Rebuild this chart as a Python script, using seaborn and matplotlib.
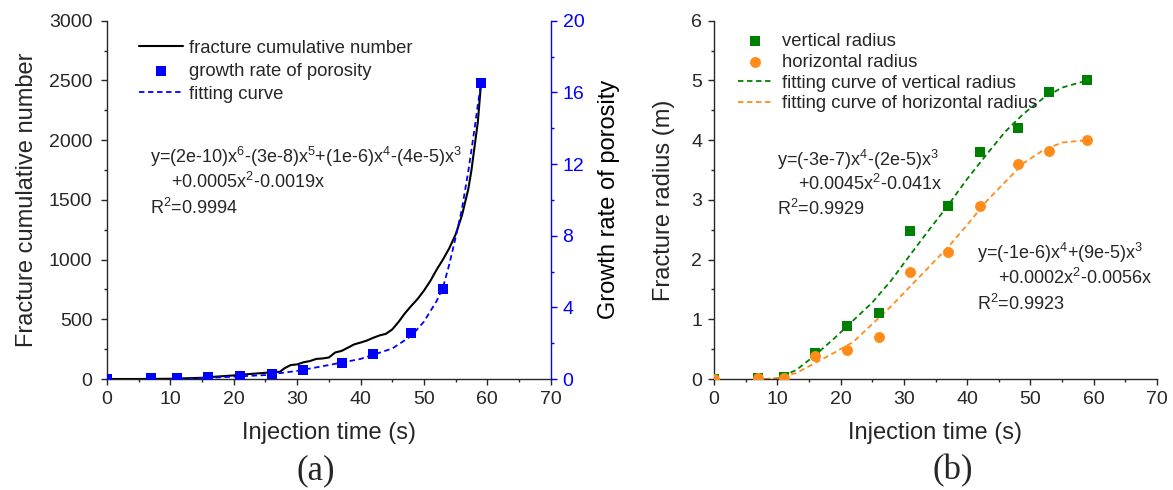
import numpy as np
import pandas as pd
import matplotlib
matplotlib.use("Agg")
import matplotlib.pyplot as plt
import seaborn as sns

# ---------------- data ----------------
# (a) fracture cumulative number (left axis)
frac_time = [0, 5, 10, 15, 17, 20, 22.6, 25, 27.3, 28, 29, 30, 31, 32, 33, 34, 35, 36, 37,
             38, 39, 40, 41, 42, 43, 44, 45, 46, 47, 48, 49, 50, 51, 52, 53, 54, 55, 56,
             57, 57.5, 58, 58.5, 59]
frac_number = [0, 0, 2, 10, 19, 30, 42, 52, 61, 90, 117, 122, 140, 150, 168, 172, 180, 222, 235,
               262, 290, 305, 322, 345, 365, 378, 415, 478, 550, 612, 670, 740, 820, 915, 1000,
               1095, 1210, 1370, 1590, 1750, 1950, 2150, 2470]
# (a) growth rate of porosity (right axis)
por_time = [0, 7, 11, 16, 21, 26, 31, 37, 42, 48, 53, 59]
por_rate = [0, 0.03, 0.05, 0.12, 0.17, 0.27, 0.52, 0.87, 1.37, 2.56, 5.02, 16.5]
# (a) fitting curve
pfit_time = [10, 15, 20, 25, 30, 35, 40, 45, 48, 50, 52, 53, 54, 55, 56, 57, 58, 58.5, 59]
pfit_rate = [0, 0.05, 0.13, 0.22, 0.45, 0.78, 1.12, 1.7, 2.4, 3.2, 4.35, 5.1, 6.4, 7.9,
             9.5, 11.6, 14.0, 15.3, 16.5]

# (b) fracture radius
rad_time = [0, 7, 11, 16, 21, 26, 31, 37, 42, 48, 53, 59]
vert_radius = [0, 0.02, 0.04, 0.44, 0.89, 1.11, 2.47, 2.90, 3.80, 4.20, 4.80, 5.00]
horiz_radius = [0, 0.02, 0.02, 0.385, 0.485, 0.71, 1.80, 2.13, 2.90, 3.60, 3.81, 4.00]
rfit_time = [8, 10, 13, 16, 19, 22, 25, 28, 31, 34, 37, 40, 43, 46, 49, 52, 55, 59]
vert_fit = [0, 0.01, 0.15, 0.40, 0.68, 0.98, 1.28, 1.65, 2.08, 2.50, 2.91, 3.35, 3.75,
            4.14, 4.45, 4.70, 4.88, 5.0]
horiz_fit = [0, 0.01, 0.10, 0.27, 0.44, 0.62, 0.92, 1.22, 1.55, 1.88, 2.21, 2.58, 2.97,
             3.30, 3.62, 3.83, 3.96, 4.0]

x_ticks = [0, 10, 20, 30, 40, 50, 60, 70]

# ---------------- style ----------------
sns.set_style("ticks")
plt.rcParams["font.family"] = ["Liberation Sans", "DejaVu Sans"]
plt.rcParams["mathtext.fontset"] = "custom"
plt.rcParams["mathtext.rm"] = "Liberation Sans"
plt.rcParams["mathtext.default"] = "regular"

BLUE = "#0000FF"
GREEN = "#008000"
ORANGE = "#FF8C1A"
TICK_FS = 14
LABEL_FS = 17
TEXT_FS = 13
LEG_FS = 13.3

W, H = 1173, 490
fig = plt.figure(figsize=(W / 100, H / 100), dpi=100)

def axes_rect(x0, x1, ytop, ybot):
    return [x0 / W, 1 - ybot / H, (x1 - x0) / W, (ybot - ytop) / H]

axA = fig.add_axes(axes_rect(107, 550.7, 20.7, 379))
axB = fig.add_axes(axes_rect(714, 1157, 20.7, 379))

def style_axis(ax):
    ax.tick_params(which="major", direction="out", length=4.5, width=1, labelsize=TICK_FS,
                   pad=4)
    ax.tick_params(which="minor", direction="out", length=2.5, width=1)
    for sp in ax.spines.values():
        sp.set_linewidth(1)

# ---------------- panel (a) ----------------
axA2 = axA.twinx()
sns.lineplot(x=frac_time, y=frac_number, ax=axA, color="black", lw=1.5,
             estimator=None, sort=False, label="fracture cumulative number")
sns.scatterplot(x=por_time, y=por_rate, ax=axA2, marker="s", s=42, color=BLUE,
                edgecolor=BLUE, linewidth=0, label="growth rate of porosity", zorder=3)
sns.lineplot(x=pfit_time, y=pfit_rate, ax=axA2, color=BLUE, lw=1.3,
             linestyle=(0, (3, 2)), estimator=None, sort=False, label="fitting curve")
for a in (axA, axA2):
    if a.get_legend() is not None:
        a.get_legend().remove()

axA.set_xlim(0, 70)
axA.set_ylim(0, 3000)
axA2.set_ylim(0, 20)
axA.set_xticks(x_ticks)
axA.set_xticks(np.arange(5, 70, 10), minor=True)
axA.set_yticks(np.arange(0, 3001, 500))
axA.set_yticks(np.arange(250, 3000, 500), minor=True)
axA2.set_yticks(np.arange(0, 21, 4))
axA2.set_yticks(np.arange(2, 20, 4), minor=True)
style_axis(axA)
style_axis(axA2)
axA.tick_params(axis="y", which="major", pad=6)
axA.spines["top"].set_visible(False)
axA2.spines["top"].set_visible(False)
axA.spines["right"].set_visible(False)
axA2.spines["left"].set_visible(False)
axA2.spines["bottom"].set_visible(False)
axA2.spines["right"].set_color(BLUE)
axA2.tick_params(axis="y", which="both", colors=BLUE)
axA.set_xlabel("Injection time (s)", fontsize=LABEL_FS)
axA.set_ylabel("Fracture cumulative number", fontsize=LABEL_FS)
axA2.set_ylabel("Growth rate of porosity", fontsize=LABEL_FS, color="black")
axA.xaxis.set_label_coords(0.5, -0.12)
axA.yaxis.set_label_coords(-0.1555, 0.5)
axA2.yaxis.set_label_coords(1.1066, 0.5)

h1, l1 = axA.get_legend_handles_labels()
h2, l2 = axA2.get_legend_handles_labels()
axA2.legend(h1 + h2, l1 + l2, loc="upper left", bbox_to_anchor=(0.072, 0.947),
            frameon=False, fontsize=LEG_FS, borderaxespad=0, borderpad=0,
            handlelength=2.4, handletextpad=0.3, labelspacing=0.32)

eqA = ["y=(2e-10)x$^{6}$-(3e-8)x$^{5}$+(1e-6)x$^{4}$-(4e-5)x$^{3}$",
       "+0.0005x$^{2}$-0.0019x", "R$^{2}$=0.9994"]
for txt, xx, yy in zip(eqA, [0.0969, 0.1442, 0.0969], [0.6196, 0.5498, 0.4772]):
    axA.text(xx, yy, txt, transform=axA.transAxes, fontsize=TEXT_FS, va="center", ha="left")

# ---------------- panel (b) ----------------
sns.scatterplot(x=rad_time, y=vert_radius, ax=axB, marker="s", s=50, color=GREEN,
                edgecolor=GREEN, linewidth=0, label="vertical radius", zorder=3)
sns.scatterplot(x=rad_time, y=horiz_radius, ax=axB, marker="o", s=62, color=ORANGE,
                edgecolor=ORANGE, linewidth=0, label="horizontal radius", zorder=3)
sns.lineplot(x=rfit_time, y=vert_fit, ax=axB, color=GREEN, lw=1.3, linestyle=(0, (3, 2)),
             estimator=None, sort=False, label="fitting curve of vertical radius")
sns.lineplot(x=rfit_time, y=horiz_fit, ax=axB, color=ORANGE, lw=1.3, linestyle=(0, (3, 2)),
             estimator=None, sort=False, label="fitting curve of horizontal radius")
if axB.get_legend() is not None:
    axB.get_legend().remove()
axB.set_xlim(0, 70)
axB.set_ylim(0, 6)
axB.set_xticks(x_ticks)
axB.set_xticks(np.arange(5, 70, 10), minor=True)
axB.set_yticks(np.arange(0, 7, 1))
axB.set_yticks(np.arange(0.5, 6, 1), minor=True)
style_axis(axB)
axB.spines["top"].set_visible(False)
axB.spines["right"].set_visible(False)
axB.set_xlabel("Injection time (s)", fontsize=LABEL_FS)
axB.set_ylabel("Fracture radius (m)", fontsize=LABEL_FS)
axB.xaxis.set_label_coords(0.5, -0.12)
axB.yaxis.set_label_coords(-0.088, 0.5)
hb, lb = axB.get_legend_handles_labels()
axB.legend(hb, lb, loc="upper left", bbox_to_anchor=(0.054, 0.965), frameon=False,
           fontsize=LEG_FS, borderaxespad=0, borderpad=0, handlelength=1.9,
           handletextpad=0.5, labelspacing=0.2)

eqB1 = ["y=(-3e-7)x$^{4}$-(2e-5)x$^{3}$", "+0.0045x$^{2}$-0.041x", "R$^{2}$=0.9929"]
for txt, xx, yy in zip(eqB1, [0.1422, 0.1903, 0.1422], [0.6112, 0.5442, 0.4745]):
    axB.text(xx, yy, txt, transform=axB.transAxes, fontsize=TEXT_FS, va="center", ha="left")
eqB2 = ["y=(-1e-6)x$^{4}$+(9e-5)x$^{3}$", "+0.0002x$^{2}$-0.0056x", "R$^{2}$=0.9923"]
for txt, xx, yy in zip(eqB2, [0.5937, 0.6418, 0.5937], [0.3517, 0.2819, 0.2093]):
    axB.text(xx, yy, txt, transform=axB.transAxes, fontsize=TEXT_FS, va="center", ha="left")

fig.text(316 / W, 1 - 471 / H, "(a)", family="Liberation Serif", fontsize=25,
         ha="center", va="center")
fig.text(953 / W, 1 - 471 / H, "(b)", family="Liberation Serif", fontsize=25,
         ha="center", va="center")

fig.savefig("out.png", dpi=100)
